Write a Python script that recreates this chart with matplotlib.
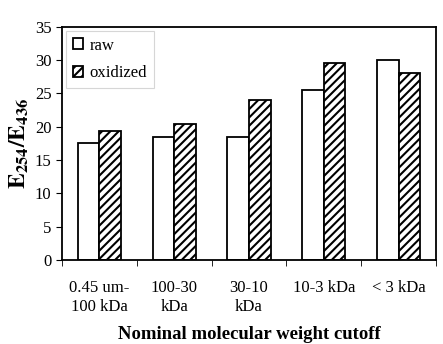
import matplotlib.pyplot as plt
import numpy as np

plt.rcParams['font.family'] = 'Liberation Serif'
plt.rcParams['mathtext.fontset'] = 'stix'
plt.rcParams['hatch.linewidth'] = 1.5

categories = ['0.45 um-\n100 kDa', '100-30\nkDa', '30-10\nkDa', '10-3 kDa', '< 3 kDa']
raw = [17.6, 18.5, 18.5, 25.5, 30.0]
oxidized = [19.4, 20.4, 24.0, 29.5, 28.0]

fig = plt.figure(figsize=(4.43, 3.44), dpi=100)
ax = fig.add_axes([0.140, 0.244, 0.844, 0.678])

x = np.arange(len(categories))
width = 0.29
ax.bar(x - width / 2, raw, width, color='white', edgecolor='black', linewidth=1.3, label='raw')
ax.bar(x + width / 2, oxidized, width, color='white', edgecolor='black', linewidth=1.3,
       hatch='////', label='oxidized')

ax.set_xlim(-0.5, len(categories) - 0.5)
ax.set_ylim(0, 35)
ax.set_yticks(range(0, 36, 5))
ax.tick_params(axis='y', labelsize=12, direction='out', length=4)

# category labels at centres, tick marks between categories
ax.set_xticks(x)
ax.set_xticklabels(categories, fontsize=12, linespacing=1.25)
ax.tick_params(axis='x', which='major', length=0, pad=14)
ax.set_xticks(np.arange(-0.5, len(categories), 1), minor=True)
ax.tick_params(axis='x', which='minor', length=4, direction='out')

for s in ax.spines.values():
    s.set_linewidth(1.3)

ax.set_ylabel(r'$\mathbf{E_{254}/E_{436}}$', fontsize=17, labelpad=3)
ax.set_xlabel('Nominal molecular weight cutoff', fontsize=13.5, fontweight='bold', labelpad=8)

leg = ax.legend(loc='upper left', fontsize=12, fancybox=False, handlelength=0.6,
                handleheight=0.6, handletextpad=0.4, borderaxespad=0.25,
                labelspacing=0.7, borderpad=0.4)
leg.get_frame().set_edgecolor('#cccccc')
leg.get_frame().set_linewidth(0.8)

plt.savefig('out.png', dpi=100)
